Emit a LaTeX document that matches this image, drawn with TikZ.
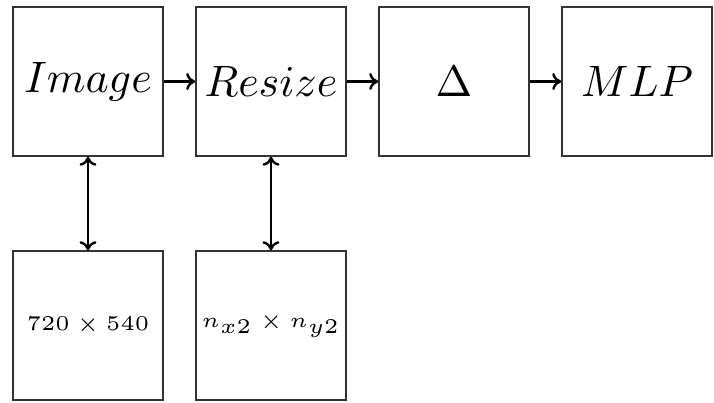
\documentclass[tikz,border=0pt]{standalone}
\usetikzlibrary{arrows.meta}
% labels are set at their natural size and scaled up
\newcommand{\biglabel}[1]{\scalebox{4.4}{$#1$}}
\newcommand{\smalllabel}[1]{\scalebox{4.2}{\tiny $#1$}}
\begin{document}
\begin{tikzpicture}[x=1pt,y=-1pt,
  blk/.style={draw=black!80,line width=1.6pt,minimum width=150pt,minimum height=149pt,inner sep=0pt,fill=white},
  tip/.tip={Computer Modern Rightarrow[length=9pt,width=17pt]},
  conn/.style={line width=2.4pt,-tip},
  link/.style={line width=2.4pt,tip-tip}]
\useasboundingbox (0,0) rectangle (714,402);
\node[blk] (img) at (88,81.5) {\biglabel{Image}};
\node[blk] (rs) at (271,81.5) {\biglabel{Resize}};
\node[blk] (dl) at (454,81.5) {\biglabel{\Delta}};
\node[blk] (mlp) at (637,81.5) {\biglabel{MLP}};
\node[blk] (sz1) at (88,325.5) {\smalllabel{720\times540}};
\node[blk] (sz2) at (271,325.5) {\smalllabel{n_{x2}\times n_{y2}}};
\draw[conn] (img) -- (rs);
\draw[conn] (rs) -- (dl);
\draw[conn] (dl) -- (mlp);
\draw[link] (img) -- (sz1);
\draw[link] (rs) -- (sz2);
\end{tikzpicture}
\end{document}
